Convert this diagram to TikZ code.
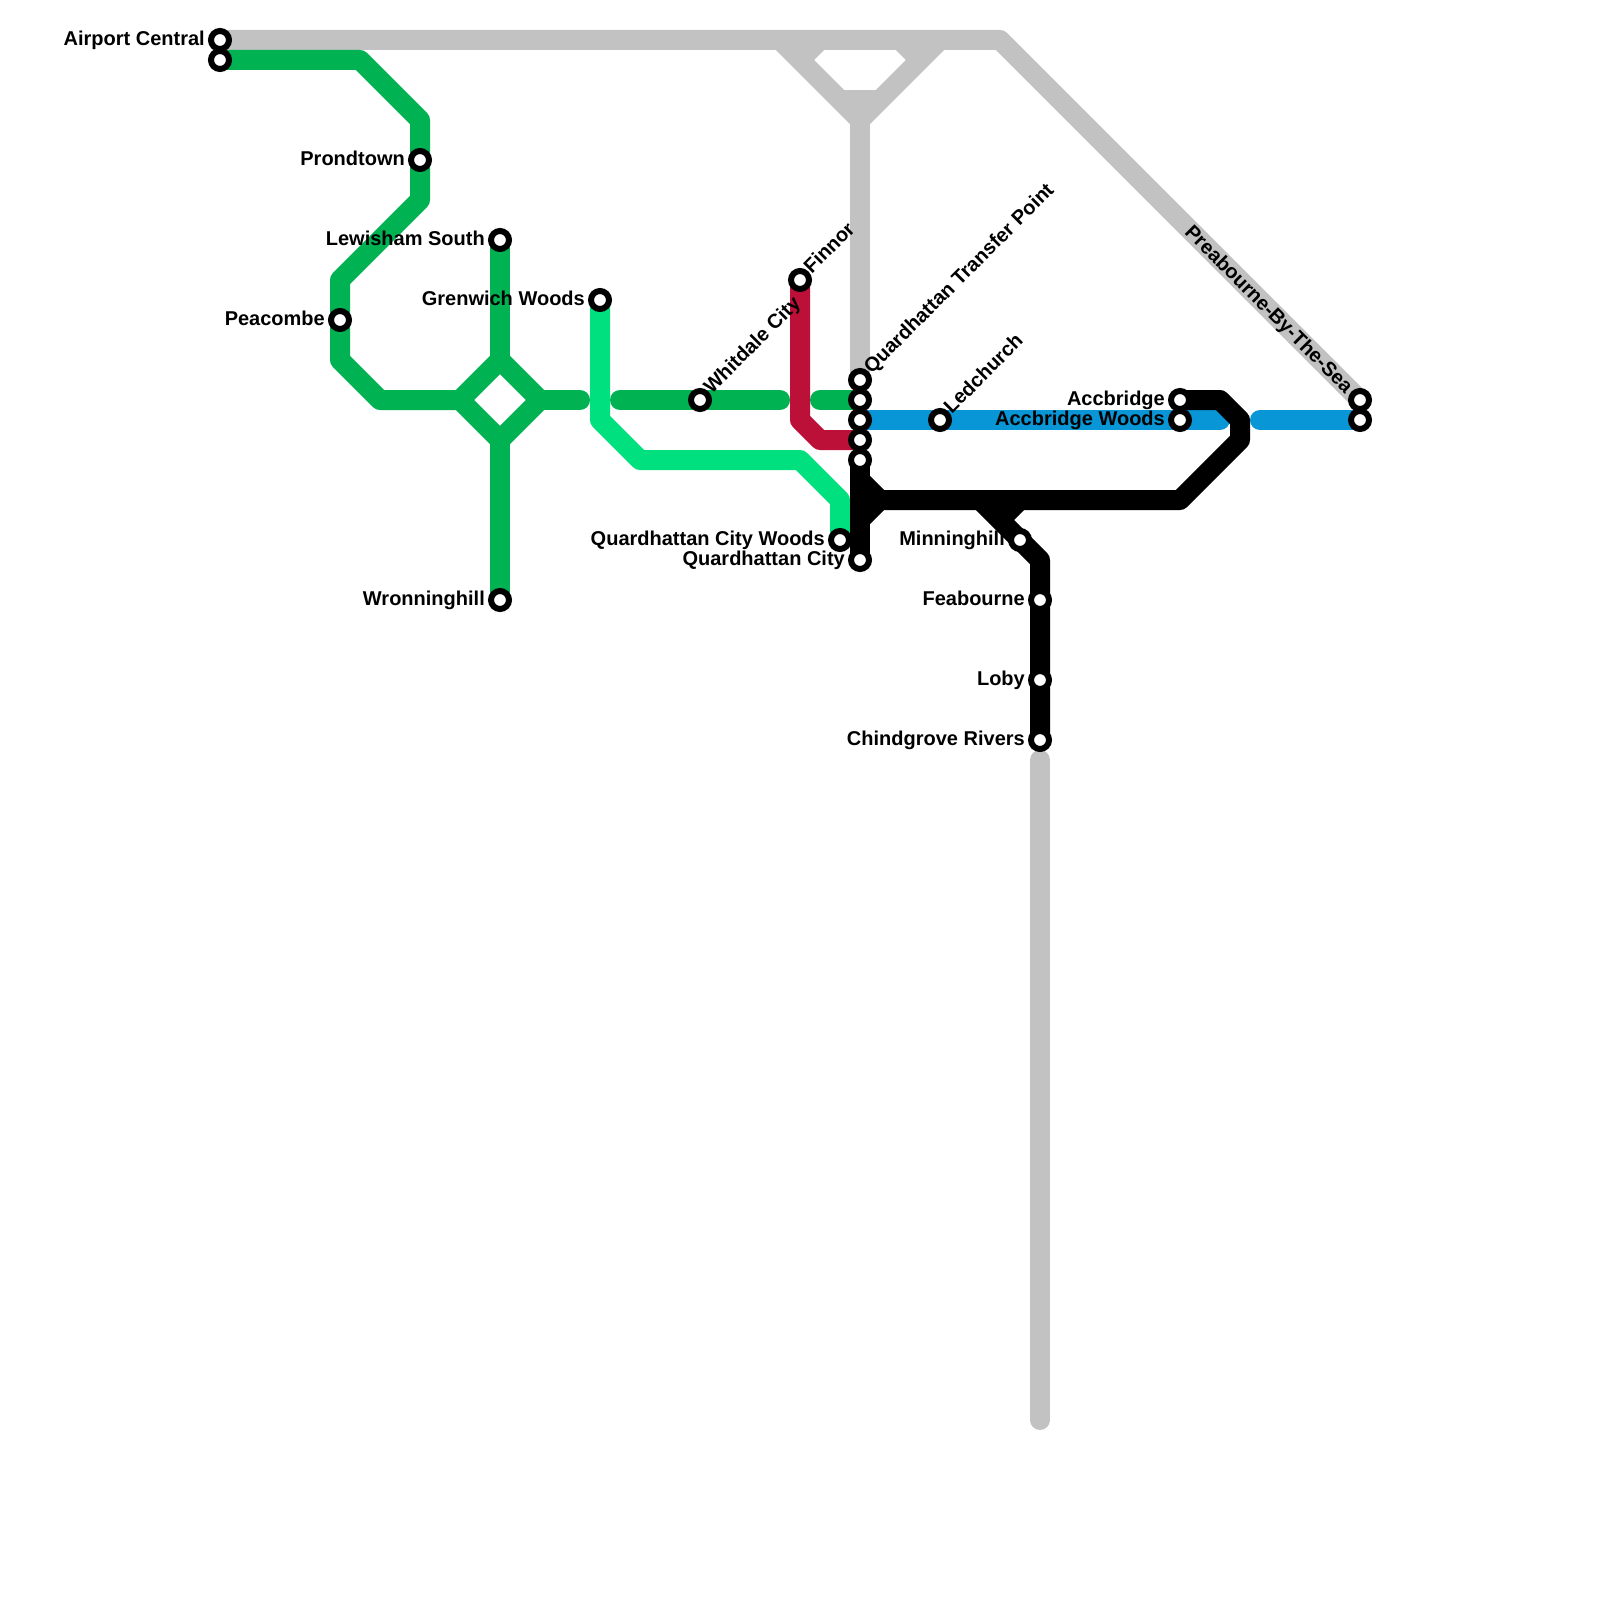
\documentclass[tikz,border=0pt]{standalone}
\usepackage{fontspec}
\setmainfont{Liberation Sans}
\definecolor{lgrey}{HTML}{C2C2C2}
\definecolor{lgreen}{HTML}{00B251}
\definecolor{lblue}{HTML}{0896D7}
\definecolor{lred}{HTML}{BD1038}
\definecolor{lmint}{HTML}{00E07F}
\tikzset{
  metro/.style={line width=20pt,line join=round,line cap=butt},
  metroend/.style={line width=20pt,line join=round,line cap=round},
  stn/.style={circle,draw=black,fill=white,line width=6pt,minimum size=18pt,inner sep=0pt},
  lbl/.style={font=\bfseries\fontsize{20}{22}\selectfont,inner sep=0pt,text height=11pt,text depth=0pt,text=black},
  lw/.style={lbl,anchor=east,xshift=-15pt},
  lu/.style={lbl,anchor=west,rotate=45,xshift=12pt,yshift=1pt},
  ld/.style={lbl,anchor=east,rotate=-45,xshift=-14.2pt,yshift=-1.2pt},
}
\begin{document}
\begin{tikzpicture}[x=1pt,y=-1pt]
\useasboundingbox (0,0) rectangle (1600,1600);
\fill[white] (0,0) rectangle (1600,1600);
% stations
\coordinate (airport) at (220,40);
\coordinate (airport2) at (220,60);
\coordinate (prond) at (420,160);
\coordinate (lewis) at (500,240);
\coordinate (peac) at (340,320);
\coordinate (gren) at (600,300);
\coordinate (wron) at (500,600);
\coordinate (whit) at (700,400);
\coordinate (finn) at (800,280);
\coordinate (qa) at (860,380);
\coordinate (qb) at (860,400);
\coordinate (qc) at (860,420);
\coordinate (qd) at (860,440);
\coordinate (qe) at (860,460);
\coordinate (qcity) at (860,560);
\coordinate (qwoods) at (840,540);
\coordinate (led) at (940,420);
\coordinate (acc) at (1180,400);
\coordinate (accw) at (1180,420);
\coordinate (prea) at (1360,400);
\coordinate (prea2) at (1360,420);
\coordinate (minn) at (1020,540);
\coordinate (fea) at (1040,600);
\coordinate (loby) at (1040,680);
\coordinate (chin) at (1040,740);
% grey
\coordinate (g1) at (1000,40);
\coordinate (g2) at (780,40);
\coordinate (g3) at (860,120);
\coordinate (g4) at (940,40);
\coordinate (g5) at (800,60);
\coordinate (g6) at (820,40);
\coordinate (g7) at (920,60);
\coordinate (g8) at (900,40);
\coordinate (g9) at (840,100);
\coordinate (g10) at (880,100);
\coordinate (g11) at (1040,760);
\coordinate (g12) at (1040,1420);
\draw[metro,lgrey] (airport) -- (g1) -- (prea);
\draw[metro,lgrey] (g2) -- (g3) -- (g4);
\draw[metro,lgrey] (g3) -- (qa);
\draw[metro,lgrey] (g5) -- (g6);
\draw[metro,lgrey] (g7) -- (g8);
\draw[metro,lgrey] (g9) -- (g10);
\draw[metroend,lgrey] (g11) -- (g12);
% green
\coordinate (a1) at (360,60);
\coordinate (a2) at (420,120);
\coordinate (a3) at (420,200);
\coordinate (a4) at (340,280);
\coordinate (a5) at (340,360);
\coordinate (a6) at (380,400);
\coordinate (dl) at (460,400);
\coordinate (dt) at (500,360);
\coordinate (dr) at (540,400);
\coordinate (db) at (500,440);
\coordinate (e1) at (580,400);
\coordinate (e2) at (620,400);
\coordinate (e3) at (780,400);
\coordinate (e4) at (820,400);
\draw[metro,lgreen] (airport2) -- (a1) -- (a2) -- (prond) -- (a3) -- (a4) -- (peac) -- (a5) -- (a6) -- (dl);
\draw[metro,lgreen] (dl) -- (dt) -- (dr) -- (db) -- cycle;
\draw[metro,lgreen] (lewis) -- (dt);
\draw[metro,lgreen] (db) -- (wron);
\draw[metroend,lgreen] (dr) -- (e1);
\draw[metroend,lgreen] (e2) -- (whit) -- (e3);
\draw[metroend,lgreen] (e4) -- (qb);
% blue
\coordinate (b1) at (1220,420);
\coordinate (b2) at (1260,420);
\draw[metroend,lblue] (qc) -- (led) -- (accw) -- (b1);
\draw[metroend,lblue] (b2) -- (prea2);
% red
\coordinate (r1) at (800,420);
\coordinate (r2) at (820,440);
\draw[metro,lred] (finn) -- (r1) -- (r2) -- (qd);
% mint
\coordinate (m1) at (600,420);
\coordinate (m2) at (640,460);
\coordinate (m3) at (800,460);
\coordinate (m4) at (840,500);
\draw[metro,lmint] (gren) -- (m1) -- (m2) -- (m3) -- (m4) -- (qwoods);
% black
\coordinate (k1) at (860,480);
\coordinate (k2) at (880,500);
\coordinate (k3) at (860,520);
\coordinate (k4) at (860,500);
\coordinate (k5) at (1180,500);
\coordinate (k6) at (1240,440);
\coordinate (k7) at (1240,420);
\coordinate (k8) at (1220,400);
\coordinate (k9) at (980,500);
\coordinate (k10) at (1040,560);
\coordinate (k11) at (1020,500);
\coordinate (k12) at (1000,520);
\draw[metro,black] (qe) -- (qcity);
\draw[metro,black] (k1) -- (k2) -- (k3);
\draw[metro,black] (k4) -- (k5) -- (k6) -- (k7) -- (k8) -- (acc);
\draw[metro,black] (k9) -- (minn) -- (k10) -- (fea) -- (loby) -- (chin);
\draw[metro,black] (k11) -- (k12);
% station markers
\foreach \n in {airport,airport2,prond,lewis,peac,gren,wron,whit,finn,qa,qb,qc,qd,qe,qcity,qwoods,led,acc,accw,prea,prea2,minn,fea,loby,chin}
  \node[stn] (st\n) at (\n) {};
% labels
\node[lw] (t1) at (airport) {Airport Central};
\node[lw] (t2) at (prond) {Prondtown};
\node[lw] (t3) at (lewis) {Lewisham South};
\node[lw] (t4) at (peac) {Peacombe};
\node[lw] (t5) at (gren) {Grenwich Woods};
\node[lw] (t6) at (wron) {Wronninghill};
\node[lw] (t7) at (qwoods) {Quardhattan City Woods};
\node[lw] (t8) at (qcity) {Quardhattan City};
\node[lw] (t9) at (minn) {Minninghill};
\node[lw] (t10) at (fea) {Feabourne};
\node[lw] (t11) at (loby) {Loby};
\node[lw] (t12) at (chin) {Chindgrove Rivers};
\node[lw] (t13) at (acc) {Accbridge};
\node[lw] (t14) at (accw) {Accbridge Woods};
\node[lu] (t15) at (whit) {Whitdale City};
\node[lu] (t16) at (finn) {Finnor};
\node[lu] (t17) at (qa) {Quardhattan Transfer Point};
\node[lu] (t18) at (led) {Ledchurch};
\node[ld] (t19) at (prea) {Preabourne-By-The-Sea};
\end{tikzpicture}
\end{document}
